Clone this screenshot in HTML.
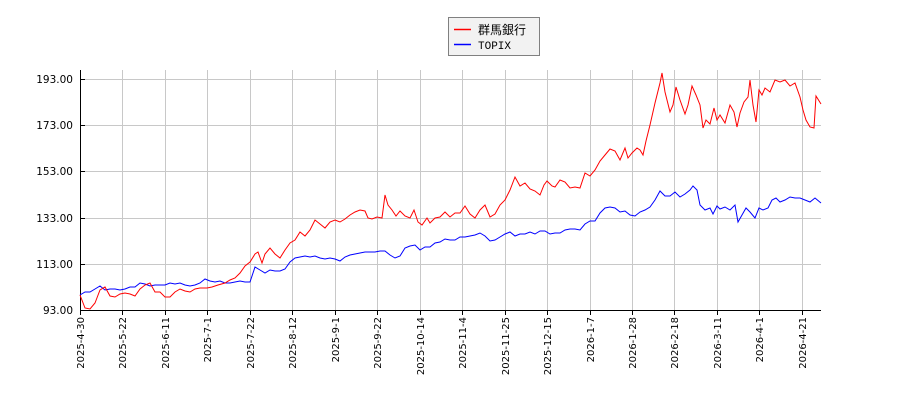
<!DOCTYPE html>
<html><head><meta charset="utf-8"><style>
body{margin:0;background:#fff;}
svg{display:block;font-family:"DejaVu Sans","Liberation Sans","Noto Sans CJK JP",sans-serif;}
</style></head><body>
<svg width="900" height="400" xmlns="http://www.w3.org/2000/svg">
<rect width="900" height="400" fill="#fff"/>
<g stroke="#c8c8c8" stroke-width="1">
<line x1="80" y1="79.5" x2="821" y2="79.5"/><line x1="80" y1="125.5" x2="821" y2="125.5"/>
<line x1="80" y1="171.5" x2="821" y2="171.5"/><line x1="80" y1="218.5" x2="821" y2="218.5"/>
<line x1="80" y1="264.5" x2="821" y2="264.5"/>
<line x1="122.5" y1="70" x2="122.5" y2="310"/><line x1="165.5" y1="70" x2="165.5" y2="310"/>
<line x1="207.5" y1="70" x2="207.5" y2="310"/><line x1="250.5" y1="70" x2="250.5" y2="310"/>
<line x1="292.5" y1="70" x2="292.5" y2="310"/><line x1="335.5" y1="70" x2="335.5" y2="310"/>
<line x1="377.5" y1="70" x2="377.5" y2="310"/><line x1="420.5" y1="70" x2="420.5" y2="310"/>
<line x1="462.5" y1="70" x2="462.5" y2="310"/><line x1="505.5" y1="70" x2="505.5" y2="310"/>
<line x1="547.5" y1="70" x2="547.5" y2="310"/><line x1="590.5" y1="70" x2="590.5" y2="310"/>
<line x1="632.5" y1="70" x2="632.5" y2="310"/><line x1="674.5" y1="70" x2="674.5" y2="310"/>
<line x1="717.5" y1="70" x2="717.5" y2="310"/><line x1="759.5" y1="70" x2="759.5" y2="310"/>
<line x1="802.5" y1="70" x2="802.5" y2="310"/>
</g>
<g stroke="#000" stroke-width="1">
<line x1="80.5" y1="70" x2="80.5" y2="310"/><line x1="80" y1="310.5" x2="821" y2="310.5"/>
<line x1="80" y1="79.5" x2="85" y2="79.5"/><line x1="80" y1="125.5" x2="85" y2="125.5"/>
<line x1="80" y1="171.5" x2="85" y2="171.5"/><line x1="80" y1="218.5" x2="85" y2="218.5"/>
<line x1="80" y1="264.5" x2="85" y2="264.5"/>
<line x1="80.5" y1="310" x2="80.5" y2="315"/><line x1="122.5" y1="310" x2="122.5" y2="315"/>
<line x1="165.5" y1="310" x2="165.5" y2="315"/><line x1="207.5" y1="310" x2="207.5" y2="315"/>
<line x1="250.5" y1="310" x2="250.5" y2="315"/><line x1="292.5" y1="310" x2="292.5" y2="315"/>
<line x1="335.5" y1="310" x2="335.5" y2="315"/><line x1="377.5" y1="310" x2="377.5" y2="315"/>
<line x1="420.5" y1="310" x2="420.5" y2="315"/><line x1="462.5" y1="310" x2="462.5" y2="315"/>
<line x1="505.5" y1="310" x2="505.5" y2="315"/><line x1="547.5" y1="310" x2="547.5" y2="315"/>
<line x1="590.5" y1="310" x2="590.5" y2="315"/><line x1="632.5" y1="310" x2="632.5" y2="315"/>
<line x1="674.5" y1="310" x2="674.5" y2="315"/><line x1="717.5" y1="310" x2="717.5" y2="315"/>
<line x1="759.5" y1="310" x2="759.5" y2="315"/><line x1="802.5" y1="310" x2="802.5" y2="315"/>
</g>
<g font-size="10.5" fill="#000" text-anchor="end">
<text x="73" y="83">193.00</text><text x="73" y="129">173.00</text><text x="73" y="175">153.00</text>
<text x="73" y="222">133.00</text><text x="73" y="268">113.00</text><text x="73" y="314">93.00</text>
</g>
<g font-size="10" fill="#000" text-anchor="end">
<text transform="translate(84,317) rotate(-90)">2025-4-30</text>
<text transform="translate(126,317) rotate(-90)">2025-5-22</text>
<text transform="translate(169,317) rotate(-90)">2025-6-11</text>
<text transform="translate(211,317) rotate(-90)">2025-7-1</text>
<text transform="translate(254,317) rotate(-90)">2025-7-22</text>
<text transform="translate(296,317) rotate(-90)">2025-8-12</text>
<text transform="translate(339,317) rotate(-90)">2025-9-1</text>
<text transform="translate(381,317) rotate(-90)">2025-9-22</text>
<text transform="translate(424,317) rotate(-90)">2025-10-14</text>
<text transform="translate(466,317) rotate(-90)">2025-11-4</text>
<text transform="translate(509,317) rotate(-90)">2025-11-25</text>
<text transform="translate(551,317) rotate(-90)">2025-12-15</text>
<text transform="translate(594,317) rotate(-90)">2026-1-7</text>
<text transform="translate(636,317) rotate(-90)">2026-1-28</text>
<text transform="translate(678,317) rotate(-90)">2026-2-18</text>
<text transform="translate(721,317) rotate(-90)">2026-3-11</text>
<text transform="translate(763,317) rotate(-90)">2026-4-1</text>
<text transform="translate(806,317) rotate(-90)">2026-4-21</text>
</g>
<polyline fill="none" stroke="#0000ff" stroke-width="1" points="80,295 85,292 90,292 95,289 100,286 105,290 110,289 115,289 120,290 125,289 130,287 135,287 140,283 145,284 150,286 155,285 160,285 165,285 170,283 175,284 180,283 185,285 190,286 195,285 200,283 205,279 210,281 215,282 220,281 225,283 230,283 235,282 240,281 245,282 250,282 255,267 260,270 265,273 270,270 275,271 280,271 285,269 290,262 295,258 300,257 305,256 310,257 315,256 320,258 325,259 330,258 335,259 340,261 345,257 350,255 355,254 360,253 365,252 370,252 375,252 380,251 385,251 390,255 395,258 400,256 405,248 410,246 415,245 420,250 425,247 430,247 435,243 440,242 445,239 450,240 455,240 460,237 465,237 470,236 475,235 480,233 485,236 490,241 495,240 500,237 505,234 510,232 515,236 520,234 525,234 530,232 535,234 540,231 545,231 550,234 555,233 560,233 565,230 570,229 575,229 580,230 585,224 590,221 595,221 600,213 605,208 610,207 615,208 620,212 625,211 630,215 635,216 640,212 645,210 650,207 655,200 660,191 665,196 670,196 675,192 680,197 685,194 690,190 693,186 697,190 700,205 705,210 710,208 713,214 717,206 720,209 725,207 730,210 735,205 738,222 742,215 746,208 750,212 755,218 759,208 763,210 768,208 772,200 776,198 780,202 785,200 790,197 795,198 800,198 805,200 810,202 815,198 821,203"/>
<polyline fill="none" stroke="#ff0000" stroke-width="1" points="80,295 85,308 90,309 95,303 100,290 105,287 110,296 115,297 120,294 125,293 130,294 135,296 140,289 145,285 150,283 155,292 160,292 165,297 170,297 175,292 180,289 185,291 190,292 195,289 200,288 207,288 212,287 218,285 225,283 230,280 235,278 240,273 245,266 250,262 255,254 258,252 262,263 265,254 270,248 275,254 280,258 285,250 290,243 295,240 300,232 305,236 310,230 315,220 320,224 325,228 330,222 335,220 340,222 345,219 350,215 355,212 360,210 365,211 368,218 372,219 377,217 382,218 385,195 388,205 392,210 396,216 400,211 405,216 410,218 414,210 418,222 422,225 427,218 430,223 435,218 440,217 445,212 450,217 455,213 460,213 465,206 470,214 475,218 480,210 485,205 490,217 495,214 500,205 505,200 510,190 515,177 520,186 525,183 530,189 535,191 540,195 544,185 547,181 552,186 555,187 560,180 565,182 570,188 575,187 580,188 585,173 590,176 595,170 600,161 605,155 610,149 615,151 620,160 625,148 628,158 632,153 637,148 640,150 643,155 646,141 650,125 655,103 660,83 662,73 665,92 670,112 673,105 676,87 680,100 685,114 688,105 692,86 696,95 700,105 703,128 706,120 710,124 714,108 717,120 720,115 725,123 730,105 734,112 737,127 740,113 744,102 748,97 750,80 753,105 756,122 759,90 762,95 765,88 770,92 775,80 780,82 785,80 790,86 795,83 800,97 803,110 806,120 810,127 814,128 816,96 821,104"/>
<rect x="448.5" y="17.5" width="91" height="38" fill="#f2f2f2" stroke="#808080" stroke-width="1"/>
<line x1="454" y1="29.5" x2="471" y2="29.5" stroke="#ff0000" stroke-width="1.5"/>
<line x1="454" y1="44.5" x2="471" y2="44.5" stroke="#0000ff" stroke-width="1.5"/>
<text x="478" y="34" font-size="12" fill="#000">群馬銀行</text>
<text x="478" y="49" font-size="11" fill="#000" font-family="Liberation Mono, monospace">TOPIX</text>
</svg>
</body></html>
